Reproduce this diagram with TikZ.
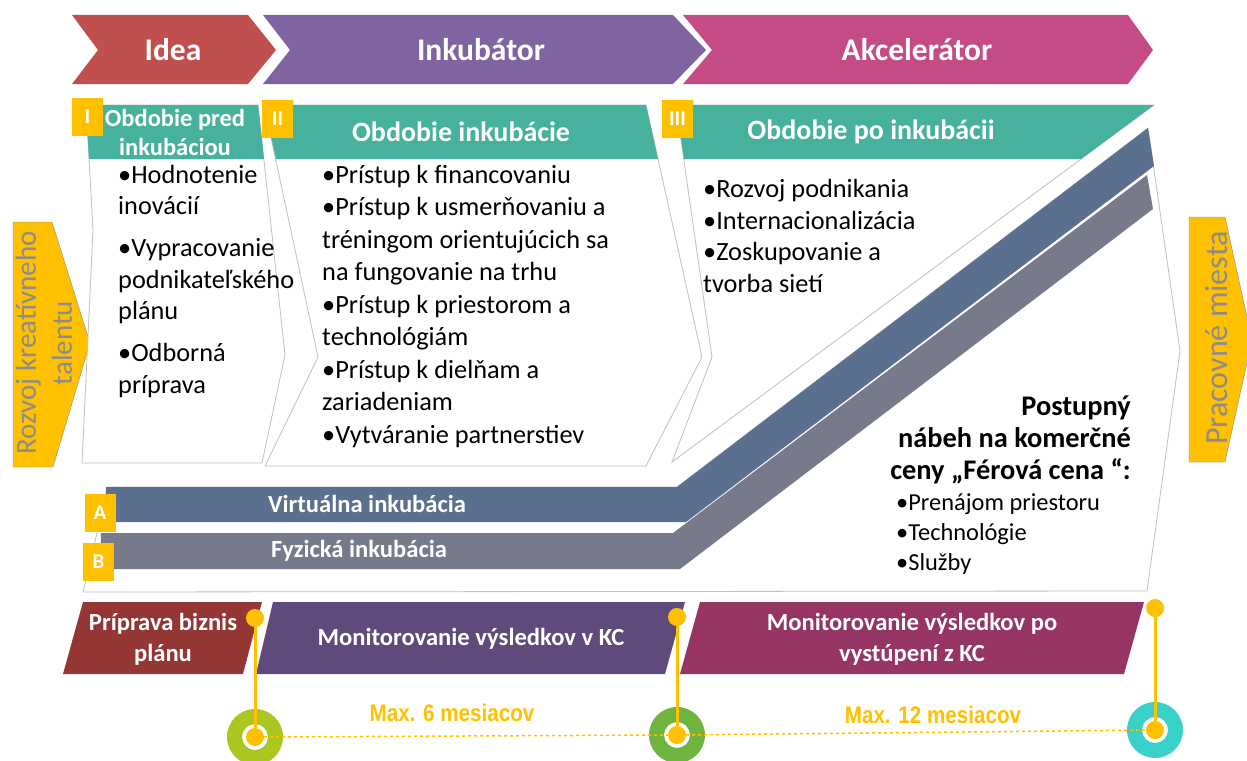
\documentclass[tikz,border=0pt]{standalone}
\usepackage{fontspec}
\setmainfont{Carlito}
\newfontfamily\narrowfont{Liberation Sans}
\usetikzlibrary{positioning}

\definecolor{ideared}{HTML}{C0504D}
\definecolor{inkpurple}{HTML}{8064A2}
\definecolor{akcpink}{HTML}{C54B86}
\definecolor{obdteal}{HTML}{46B29D}
\definecolor{virtblue}{HTML}{5B6F8F}
\definecolor{fyzgray}{HTML}{777A8B}
\definecolor{badgeyel}{HTML}{FFC000}
\definecolor{planred}{HTML}{943634}
\definecolor{monpurple}{HTML}{604A7B}
\definecolor{monpink}{HTML}{963463}
\definecolor{ringolive}{HTML}{ABC61E}
\definecolor{ringgreen}{HTML}{6FB43F}
\definecolor{ringcyan}{HTML}{3AD1C8}
\definecolor{framegray}{HTML}{BFBFBF}
\definecolor{labelgray}{HTML}{8C8C8C}

\begin{document}
\begin{tikzpicture}[
    x=1pt, y=-1pt,
    phase/.style={text=white, font=\fontsize{31.5}{34}\selectfont\bfseries},
    head/.style={text=white, align=center, font=\fontsize{28}{31}\selectfont\bfseries},
    body/.style={anchor=north west, align=left, inner sep=0pt},
    badge/.style={fill=badgeyel, text=white, minimum width=31pt, minimum height=38pt,
      inner sep=0pt, font=\fontsize{21}{22}\selectfont\bfseries},
    frame/.style={fill=white, draw=framegray, line width=0.8pt},
    band/.style={text=white, font=\fontsize{24.6}{27}\selectfont\bfseries},
    bottom/.style={text=white, align=center, font=\fontsize{24.6}{31}\selectfont\bfseries},
    side/.style={text=labelgray, align=center, rotate=90},
    dot/.style={circle, fill=badgeyel, minimum size=18pt, inner sep=0pt},
    link/.style={draw=badgeyel, line width=3pt},
    span/.style={draw=badgeyel, dashed, line width=1.5pt},
    months/.style={text=badgeyel, font=\narrowfont\fontsize{24}{26}\selectfont\bfseries}
]
\useasboundingbox (0,0) rectangle (1247,760);

% phases
\fill[ideared] (72,15) -- (248,15) -- (276,50) -- (248,84) -- (72,84) -- (98,50) -- cycle;
\fill[inkpurple] (263,15) -- (673,15) -- (706,50) -- (673,84) -- (263,84) -- (290,50) -- cycle;
\fill[akcpink] (683,15) -- (1128,15) -- (1153,50) -- (1128,84) -- (683,84) -- (712,50) -- cycle;
\node[phase] (idea) at (173,50) {Idea};
\node[phase] (inkub) at (481,50) {Inkubátor};
\node[phase] (akcel) at (917,50) {Akcelerátor};

% side arrows
\filldraw[fill=badgeyel, draw=labelgray] (13,222) -- (52,222) -- (90,343) -- (53,467) -- (13,467) -- cycle;
\node[side, font=\fontsize{29}{36}\selectfont] (talent) at (44,343) {Rozvoj kreatívneho\\talentu};
\filldraw[fill=badgeyel, draw=labelgray] (1189,217) -- (1225,217) -- (1252,340) -- (1225,462) -- (1189,462) -- cycle;
\node[side, font=\fontsize{32}{36}\selectfont] (jobs) at (1217,338) {Pracovné miesta};

% periods
\filldraw[frame] (86,105) -- (258,105) -- (285,355) -- (262,463) -- (82,463) -- (93,230) -- cycle;
\filldraw[frame] (264,105) -- (646,105) -- (702,357) -- (646,466) -- (265,466) -- (318,357) -- cycle;
\filldraw[frame] (676,105) -- (1154,105) -- (672,462) -- (712,357) -- cycle;
\fill[obdteal] (86,105) -- (258,105) -- (264,159) -- (89,159) -- cycle;
\fill[obdteal] (264,105) -- (646,105) -- (658,159) -- (276,159) -- cycle;
\fill[obdteal] (676,105) -- (1154,105) -- (1081,159) -- (684,159) -- cycle;
\node[head, font=\fontsize{24.5}{29}\selectfont\bfseries] (pred) at (175,132) {Obdobie pred\\inkubáciou};
\node[head] (pocas) at (461,132) {Obdobie inkubácie};
\node[head] (po) at (871,132) {Obdobie po inkubácii};
\node[badge] (b-I) at (87.5,117) {I};
\node[badge] (b-II) at (277.5,119) {II};
\node[badge] (b-III) at (677.5,118.5) {III};

\node[body, font=\fontsize{26.3}{31.5}\selectfont] (list-I) at (118,165)
  {•Hodnotenie\\inovácií\\[10.5pt]•Vypracovanie\\podnikateľského\\plánu\\[10.5pt]•Odborná\\príprava};
\node[body, font=\fontsize{26.3}{32.5}\selectfont] (list-II) at (322,165)
  {•Prístup k financovaniu\\•Prístup k usmerňovaniu a\\tréningom orientujúcich sa\\na fungovanie na trhu\\%
   •Prístup k priestorom a\\technológiám\\•Prístup k dielňam a\\zariadeniam\\•Vytváranie partnerstiev};
\node[body, font=\fontsize{26.3}{31.7}\selectfont] (list-III) at (703,179)
  {•Rozvoj podnikania\\•Internacionalizácia\\•Zoskupovanie a\\tvorba sietí};

% incubation tracks
\filldraw[frame] (108,487) -- (677,487) -- (1148,128) -- (1180,351) -- (1147,591) -- (83,592) -- cycle;
\fill[virtblue] (106,487) -- (677,487) -- (1148,128) -- (1154,166) -- (686,522) -- (104,522) -- cycle;
\fill[fyzgray] (101,533) -- (673,533) -- (1147,175) -- (1153,209) -- (680,569) -- (100,569) -- cycle;
\node[band] (virt) at (367,504) {Virtuálna inkubácia};
\node[band] (fyz) at (359,551) {Fyzická inkubácia};
\node[badge] (b-A) at (100,512.5) {A};
\node[badge] (b-B) at (98.5,562) {B};
\node[anchor=north east, align=right, inner sep=0pt, font=\fontsize{28.4}{32}\selectfont\bfseries] (price) at (1131,396)
  {Postupný\\nábeh na komerčné\\ceny „Férová cena “:};
\node[body, font=\fontsize{24.4}{30}\selectfont] (services) at (896,494)
  {•Prenájom priestoru\\•Technológie\\•Služby};

% monitoring
\fill[planred] (83,602) -- (262,602) -- (243,674) -- (63,674) -- cycle;
\fill[monpurple] (273,602) -- (685,602) -- (665,674) -- (256,674) -- cycle;
\fill[monpink] (700,602) -- (1144,602) -- (1124,674) -- (680,674) -- cycle;
\node[bottom] (plan) at (163,639) {Príprava biznis\\plánu};
\node[bottom] (mon-in) at (471,639) {Monitorovanie výsledkov v KC};
\node[bottom] (mon-out) at (912,639) {Monitorovanie výsledkov po\\vystúpení z KC};

% timeline
\coordinate (r1) at (255,737);
\coordinate (r2) at (677,735);
\coordinate (r3) at (1155,730);
\fill[ringolive, even odd rule] (r1) circle (28pt) circle (13pt);
\fill[ringgreen, even odd rule] (r2) circle (28pt) circle (13pt);
\fill[ringcyan, even odd rule] (r3) circle (28pt) circle (13pt);
\node[dot] (t1) at (255,618) {};
\node[dot] (t2) at (677,617) {};
\node[dot] (t3) at (1155,608) {};
\node[dot] (d1) at (r1) {};
\node[dot] (d2) at (r2) {};
\node[dot] (d3) at (r3) {};
\draw[span] (d1) -- (d2);
\draw[span] (d2) -- (d3);
\draw[link] (t1) -- (d1);
\draw[link] (t2) -- (d2);
\draw[link] (t3) -- (d3);
\node[months] (max6) at (452,713) {\scalebox{0.86}[1]{Max. 6 mesiacov}};
\node[months] (max12) at (933,715) {\scalebox{0.86}[1]{Max. 12 mesiacov}};
\end{tikzpicture}
\end{document}
